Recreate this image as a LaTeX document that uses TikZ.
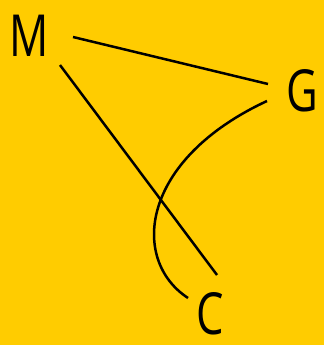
\documentclass[tikz,border=0pt]{standalone}
\usepackage{fontspec}
\setmainfont{Open Sans}
\usepackage{graphicx}
\definecolor{bg}{HTML}{FFCC00}
\tikzset{
  lbl/.style={inner sep=0pt, font=\fontsize{58}{58}\selectfont, text=black},
  edge/.style={line width=2.5pt, black}
}
\newcommand{\nar}[1]{\scalebox{0.75}[1]{#1}}
\begin{document}
\begin{tikzpicture}[x=1pt,y=-1pt]
\fill[bg] (0,0) rectangle (324,345);
\useasboundingbox (0,0) rectangle (324,345);
\node[lbl] (M) at (29,36) {\nar{M}};
\node[lbl] (G) at (302,91) {\nar{G}};
\node[lbl] (C) at (210,314) {\nar{C}};
\coordinate (m1) at (73,37);
\coordinate (g1) at (268,84);
\coordinate (m2) at (60,65);
\coordinate (c1) at (217,275);
\coordinate (g2) at (267,101);
\coordinate (c2) at (188,298);
\draw[edge] (m1) -- (g1);
\draw[edge] (m2) -- (c1);
\draw[edge] (g2) .. controls (140,160) and (130,260) .. (c2);
\end{tikzpicture}
\end{document}
